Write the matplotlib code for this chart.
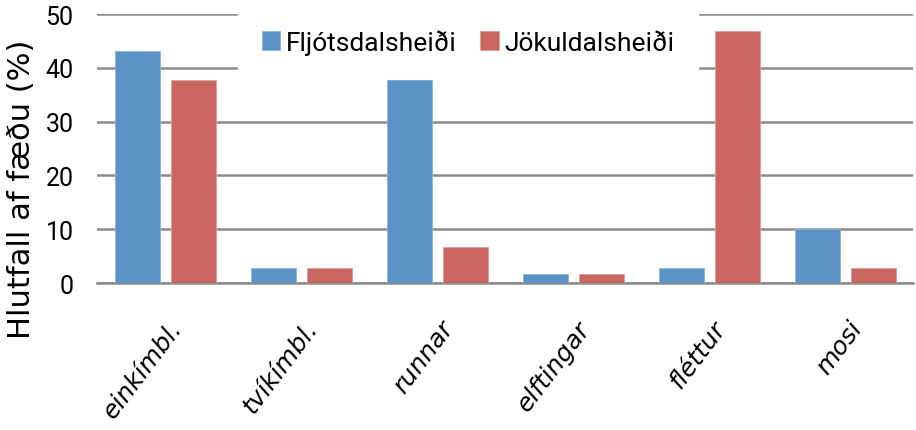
import numpy as np
import matplotlib
matplotlib.use("Agg")
import matplotlib.pyplot as plt
import matplotlib.transforms as mtransforms

# data
categories = ["einkímbl.", "tvíkímbl.", "runnar", "elftingar", "fléttur", "mosi"]
fljotsdalsheidi = [43.1, 2.8, 38.7, 1.7, 2.8, 10.0]
jokuldalsheidi = [37.7, 2.8, 6.7, 1.7, 46.8, 2.8]
yticks = [0, 10, 20, 30, 40, 50]

blue = "#5b93c7"
red = "#c9665f"

fig = plt.figure(figsize=(9.16, 4.31), dpi=100)
ax = fig.add_axes([0.106, 0.341, 0.891, 0.624])

x = np.arange(len(categories))
w = 0.33
off = 0.206
ax.bar(x - off, fljotsdalsheidi, w, color=blue, edgecolor="#8fb4dc", linewidth=0.6,
       label="Fljótsdalsheiði", zorder=3)
ax.bar(x + off, jokuldalsheidi, w, color=red, edgecolor="#e0a09b", linewidth=0.6,
       label="Jökuldalsheiði", zorder=3)

ax.set_xlim(-0.5, len(categories) - 0.5)
ax.set_ylim(0, 50)
ax.set_yticks(yticks)
ax.yaxis.grid(True, color="#8c8c8c", linewidth=1.8, zorder=0)
ax.set_axisbelow(True)
for s in ["top", "right", "left"]:
    ax.spines[s].set_visible(False)
ax.spines["bottom"].set_color("#8c8c8c")
ax.spines["bottom"].set_linewidth(1.8)
ax.tick_params(axis="both", length=0)
ax.tick_params(axis="y", pad=17)
for lab in ax.get_yticklabels():
    lab.set_fontfamily("Roboto")
    lab.set_fontsize(18)

ax.set_xticks(x)
ax.set_xticklabels(categories, rotation=53, ha="right", va="center",
                   rotation_mode="anchor", fontsize=18, style="italic",
                   family="DejaVu Sans")
ax.tick_params(axis="x", pad=29)
shift = mtransforms.ScaledTranslation(12 / 100, 0, fig.dpi_scale_trans)
for lab in ax.get_xticklabels():
    lab.set_transform(lab.get_transform() + shift)

fig.text(22 / 916, 1 - 189 / 431, "Hlutfall af fæðu (%)", rotation=90,
         ha="center", va="center", fontsize=22, family="DejaVu Sans")

leg = fig.legend(loc="center", bbox_to_anchor=(468 / 916, 1 - 43 / 431), ncol=2,
                 frameon=True, fancybox=False, edgecolor="white", framealpha=1.0,
                 prop={"family": "Roboto", "size": 19},
                 handlelength=0.7, handleheight=0.75, handletextpad=0.2,
                 columnspacing=0.9, borderpad=0.9)

fig.savefig("out.png", dpi=100)
